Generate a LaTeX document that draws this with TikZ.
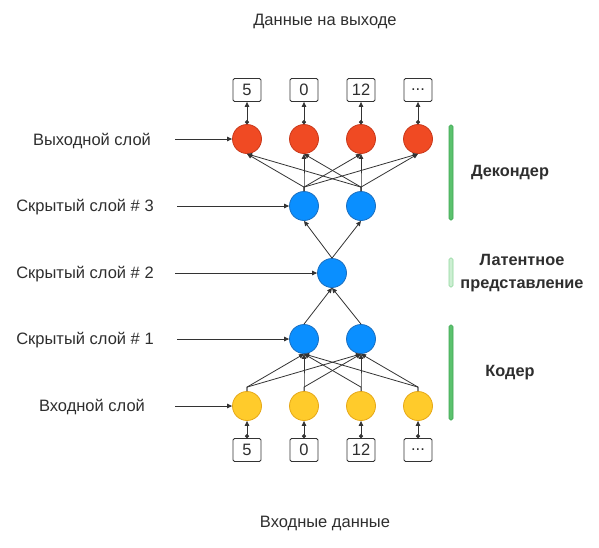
\documentclass[tikz,border=0pt]{standalone}
\usepackage{fontspec}
\setmainfont{Liberation Sans}
\usetikzlibrary{arrows.meta}
\definecolor{txt}{HTML}{2E2E2E}
\definecolor{ln}{HTML}{333333}
\definecolor{redf}{HTML}{F04A23}
\definecolor{redd}{HTML}{C9381A}
\definecolor{bluef}{HTML}{0A8FFF}
\definecolor{blued}{HTML}{1A6FC0}
\definecolor{yelf}{HTML}{FFCB2B}
\definecolor{yeld}{HTML}{E6A817}
\definecolor{barg}{HTML}{5CC26E}
\definecolor{bargd}{HTML}{3FA653}
\definecolor{barl}{HTML}{CDEFD3}
\definecolor{barld}{HTML}{8FD69C}
\newcommand\myellip{...}
\begin{document}
\begin{tikzpicture}[x=1pt,y=-1pt,
  font=\fontsize{16.5}{20}\selectfont, text=txt,
  neuron/.style={circle, minimum size=29pt, inner sep=0pt, line width=0.8pt},
  outn/.style={neuron, fill=redf, draw=redd},
  hidn/.style={neuron, fill=bluef, draw=blued},
  inn/.style={neuron, fill=yelf, draw=yeld},
  valbox/.style={draw=ln, line width=0.8pt, rounded corners=1.5pt, minimum width=28pt, minimum height=23pt, inner sep=0pt},
  conn/.style={draw=ln, line width=0.8pt, -{Triangle[length=5pt,width=4.5pt]}},
  dconn/.style={draw=ln, line width=0.8pt, {Circle[length=4pt]}-{Triangle[length=5pt,width=4.5pt]}},
  lab/.style={anchor=center},
  blab/.style={font=\fontsize{16.3}{20}\selectfont\bfseries},
  bar/.style={line width=0.6pt, rounded corners=1.5pt}
]
\useasboundingbox (0,0) rectangle (599,547);

% titles
\node[lab] (ttop) at (325,21) {Данные на выходе};
\node[lab] (tbot) at (325,523) {Входные данные};

% output and input layers
\foreach \i/\x/\v in {1/247/5,2/304/0,3/361/12,4/418/\myellip}{
  \node[outn] (o\i) at (\x,139) {};
  \node[valbox] (ob\i) at (\x,90) {\v};
  \node[inn] (i\i) at (\x,406) {};
  \node[valbox] (ib\i) at (\x,450) {\v};
}
% hidden layers
\node[hidn] (a1) at (304,206) {};
\node[hidn] (a2) at (361,206) {};
\node[hidn] (m) at (332,273) {};
\node[hidn] (b1) at (304,339) {};
\node[hidn] (b2) at (361,339) {};

% value connectors
\foreach \i in {1,2,3,4}{
  \draw[dconn] (o\i.north) -- (ob\i.south);
  \draw[dconn] (ib\i.north) -- (i\i.south);
}
% h3 -> output
\foreach \h in {a1,a2}{
  \foreach \i in {1,2,3,4}{
    \draw[conn] (\h.north) -- ++(0,-4) -- (o\i.south);
  }
}
% input -> h1
\foreach \i in {1,2,3,4}{
  \foreach \h in {b1,b2}{
    \draw[conn] (i\i.north) -- ++(0,-4) -- (\h.south);
  }
}
% h1 -> h2 -> h3
\draw[conn] (b1.north) -- (m.south);
\draw[conn] (b2.north) -- (m.south);
\draw[conn] (m.north) -- (a1.south);
\draw[conn] (m.north) -- (a2.south);

% left labels
\node[lab] (l1) at (92,141) {Выходной слой};
\node[lab] (l2) at (85,207) {Скрытый слой \# 3};
\node[lab] (l3) at (85,274) {Скрытый слой \# 2};
\node[lab] (l4) at (85,340) {Скрытый слой \# 1};
\node[lab] (l5) at (92,407) {Входной слой};
\coordinate (s1) at (175,140);
\coordinate (s2) at (177,207);
\coordinate (s3) at (175,273);
\coordinate (s4) at (177,339);
\coordinate (s5) at (175,406);
\draw[conn] (s1 |- o1.west) -- (o1.west);
\draw[conn] (s2 |- a1.west) -- (a1.west);
\draw[conn] (s3 |- m.west) -- (m.west);
\draw[conn] (s4 |- b1.west) -- (b1.west);
\draw[conn] (s5 |- i1.west) -- (i1.west);

% right bars
\draw[bar, fill=barg, draw=bargd] (449,125) rectangle (453,220);
\draw[bar, fill=barl, draw=barld] (449,258) rectangle (453,287);
\draw[bar, fill=barg, draw=bargd] (449,325) rectangle (453,420);
\node[lab, blab] (dec) at (510,173) {Декондер};
\node[lab, align=center, font=\fontsize{16.3}{23.5}\selectfont\bfseries] (lat) at (522,273) {Латентное\\представление};
\node[lab, blab] (enc) at (510,373) {Кодер};
\end{tikzpicture}
\end{document}
